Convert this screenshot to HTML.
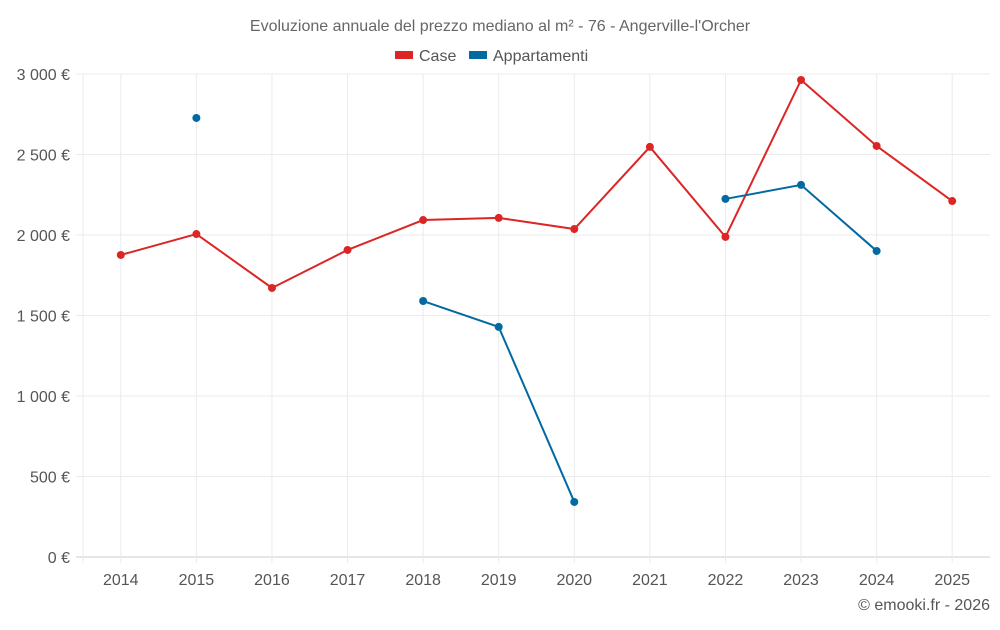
<!DOCTYPE html>
<html><head><meta charset="utf-8"><style>
body{margin:0;background:#fff;font-family:"Liberation Sans",sans-serif;}
svg text{font-family:"Liberation Sans",sans-serif;}
</style></head><body>
<svg id="c" width="1000" height="625">
<text x="500" y="31" text-anchor="middle" font-size="16" fill="#666">Evoluzione annuale del prezzo mediano al m² - 76 - Angerville-l'Orcher</text>
<g><rect x="395" y="51" width="18" height="8" fill="#dc2626"/><text x="419" y="61" font-size="16" fill="#555">Case</text></g>
<g><rect x="469" y="51" width="18" height="8" fill="#0369a1"/><text x="493" y="61" font-size="16" fill="#555">Appartamenti</text></g>
<text x="990" y="610" text-anchor="end" font-size="16" fill="#555">© emooki.fr - 2026</text>
<g id="grid"></g><g id="axes"></g><g id="marks"></g>
</svg>
<script>
const categories=["2014","2015","2016","2017","2018","2019","2020","2021","2022","2023","2024","2025"];
const caseValues=[1876,2006,1671,1907,2093,2106,2037,2547,1988,2963,2553,2211];
const appValues=[null,2727,null,null,1590,1429,342,null,2224,2311,1901,null];
const yTicks=[0,500,1000,1500,2000,2500,3000];
const yTickLabels=["0 €","500 €","1 000 €","1 500 €","2 000 €","2 500 €","3 000 €"];
const NS="http://www.w3.org/2000/svg";
const L=83,R=990,T=74,B=557;
const bw=(R-L)/categories.length;
const x=i=>L+bw*(i+0.5);
const y=v=>B-(v/3000)*(B-T);
function mk(p,t,a){const e=document.createElementNS(NS,t);for(const k in a)e.setAttribute(k,a[k]);p.appendChild(e);return e;}
const grid=document.getElementById('grid'),axes=document.getElementById('axes'),marks=document.getElementById('marks');
yTicks.forEach((v,i)=>{
 const g=mk(grid,'line',{x1:76,x2:R,y1:y(v),y2:y(v),stroke:i==0?'#ccc':'#ebebeb'});
 
 
 const t=mk(axes,'text',{x:70,y:y(v)+6,'text-anchor':'end','font-size':16,fill:'#555'});t.textContent=yTickLabels[i];
 
 
});
mk(grid,'line',{x1:L,x2:L,y1:T,y2:B+6,stroke:'#ebebeb'});
categories.forEach((c,i)=>{
 const g=mk(grid,'line',{x1:x(i),x2:x(i),y1:T,y2:B+6,stroke:'#ebebeb'});
 
 
 const t=mk(axes,'text',{x:x(i),y:585,'text-anchor':'middle','font-size':16,fill:'#555'});t.textContent=c;
 
 
});
function series(vals,color,name){
 let d='',pen=false;
 vals.forEach((v,i)=>{if(v==null){pen=false;return;}d+=(pen?'L':'M')+x(i)+' '+y(v)+' ';pen=true;});
 const p=mk(marks,'path',{d:d,fill:'none',stroke:color,'stroke-width':2});
 
 
 vals.forEach((v,i)=>{if(v==null)return;
  const c=mk(marks,'circle',{cx:x(i),cy:y(v),r:4,fill:color});
  
  
 });
}
series(caseValues,'#dc2626','case');
series(appValues,'#0369a1','appartamenti');
</script>
</body></html>
